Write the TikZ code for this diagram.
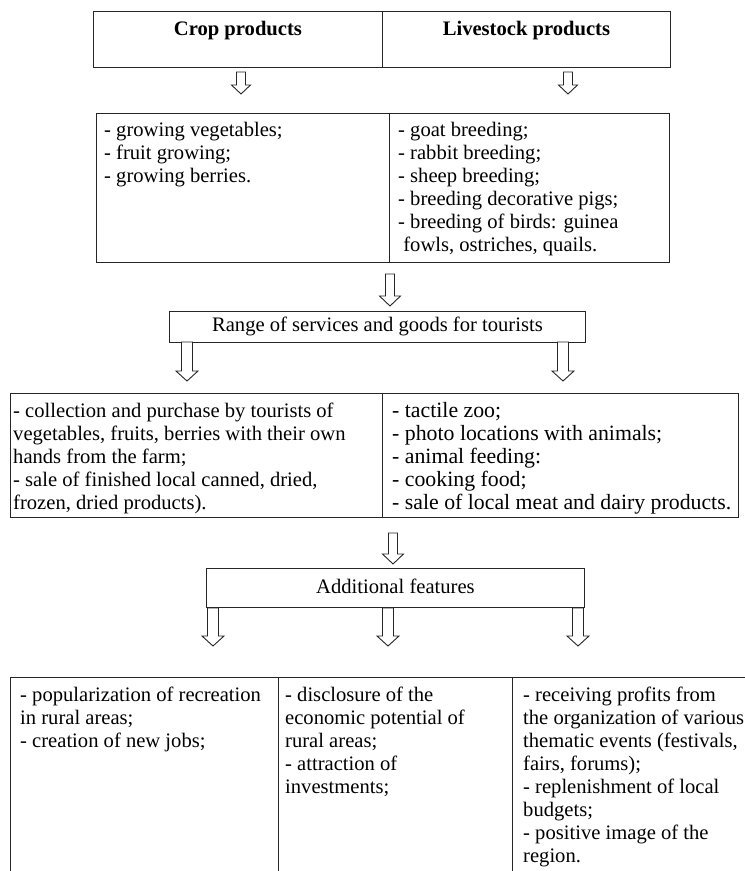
\documentclass[tikz,border=0pt]{standalone}
\usepackage{fontspec}
\setmainfont{Liberation Serif}
\usetikzlibrary{calc}
\newcommand\fs{\fontsize{20.6}{23}\selectfont}
\newcommand\fsb{\fontsize{21.8}{23}\selectfont}
\newcommand\barrow[6]{% x, top, bottom, shaft half width, head half width, head height
  \draw[arrowline] (#1-#4,#2) -- (#1+#4,#2) -- (#1+#4,#3-#6) -- (#1+#5,#3-#6) -- (#1,#3)
    -- (#1-#5,#3-#6) -- (#1-#4,#3-#6) -- cycle;}
\tikzset{
  cell/.style={draw=black!85, line width=0.9pt, inner sep=0pt, anchor=north west},
  txt/.style={anchor=north west, inner sep=0pt, align=left, font=\fs},
  ttl/.style={anchor=base, inner sep=0pt, font=\fs\bfseries},
  ctr/.style={inner sep=0pt, font=\fs},
  arrowline/.style={draw=black!85, line width=0.9pt, fill=white, line join=miter}
}
\begin{document}
\begin{tikzpicture}[x=1pt,y=-1pt]
\useasboundingbox (0,0) rectangle (745,871);
\clip (0,0) rectangle (745,871);

% top header
\node[cell, minimum width=289pt, minimum height=56pt] (cropbox) at (93,11) {};
\node[cell, minimum width=288pt, minimum height=56pt] (livebox) at (382,11) {};
\node[ttl] (croptitle) at ($(cropbox.north)+(0,24)$) {Crop products};
\node[ttl] (livetitle) at ($(livebox.north)+(0,24)$) {Livestock products};

\barrow{241}{72}{94}{4.5}{9.5}{9}
\barrow{568}{72}{94}{4.5}{9.5}{9}

% second box
\node[cell, minimum width=293pt, minimum height=149pt] (cropl) at (96,113) {};
\node[cell, minimum width=280pt, minimum height=149pt] (livel) at (389,113) {};
\node[txt] (croplt) at (104,120) {\strut- growing vegetables;\\- fruit growing;\\- growing berries.};
\node[txt] (livelt) at (398,120) {\strut- goat breeding;\\- rabbit breeding;\\- sheep breeding;\\- breeding decorative pigs;\\- breeding of birds: guinea\\\hspace{0.25em}fowls, ostriches, quails.};

\barrow{390}{274}{306}{4.5}{10.5}{10}

% range
\node[cell, minimum width=416pt, minimum height=31pt] (rng) at (169,311) {};
\node[ctr] (rngt) at (rng.center) {Range of services and goods for tourists};

\barrow{187}{342}{381}{5.5}{11}{10}
\barrow{563}{342}{381}{5.5}{11}{10}

% third box
\node[cell, minimum width=372pt, minimum height=124pt] (servl) at (10,393) {};
\node[cell, minimum width=356pt, minimum height=124pt] (servr) at (382,393) {};
\node[txt] (servlt) at (13,401) {\strut- collection and purchase by tourists of\\vegetables, fruits, berries with their own\\hands from the farm;\\- sale of finished local canned, dried,\\frozen, dried products).};
\node[txt, font=\fsb] (servrt) at (392,401) {\strut- tactile zoo;\\- photo locations with animals;\\- animal feeding:\\- cooking food;\\- sale of local meat and dairy products.};

\barrow{393}{533}{564}{4.5}{10.5}{10}

% additional features
\node[cell, minimum width=378pt, minimum height=39pt] (add) at (206,568) {};
\node[ctr] (addt) at ($(add.center)+(0,-2)$) {Additional features};

\barrow{213}{608}{646}{5.5}{11}{10}
\barrow{388}{608}{646}{5.5}{11}{10}
\barrow{578}{608}{646}{5.5}{11}{10}

% bottom
\node[cell, minimum width=268pt, minimum height=300pt] (b1) at (10,677) {};
\node[cell, minimum width=234pt, minimum height=300pt] (b2) at (278,677) {};
\node[cell, minimum width=300pt, minimum height=300pt] (b3) at (512,677) {};
\node[txt] (b1t) at (20,685) {\strut- popularization of recreation\\in rural areas;\\- creation of new jobs;};
\node[txt] (b2t) at (285,685) {\strut- disclosure of the\\economic potential of\\rural areas;\\- attraction of\\investments;};
\node[txt] (b3t) at (523,685) {\strut- receiving profits from\\the organization of various\\thematic events (festivals,\\fairs, forums);\\- replenishment of local\\budgets;\\- positive image of the\\region.};
\end{tikzpicture}
\end{document}
